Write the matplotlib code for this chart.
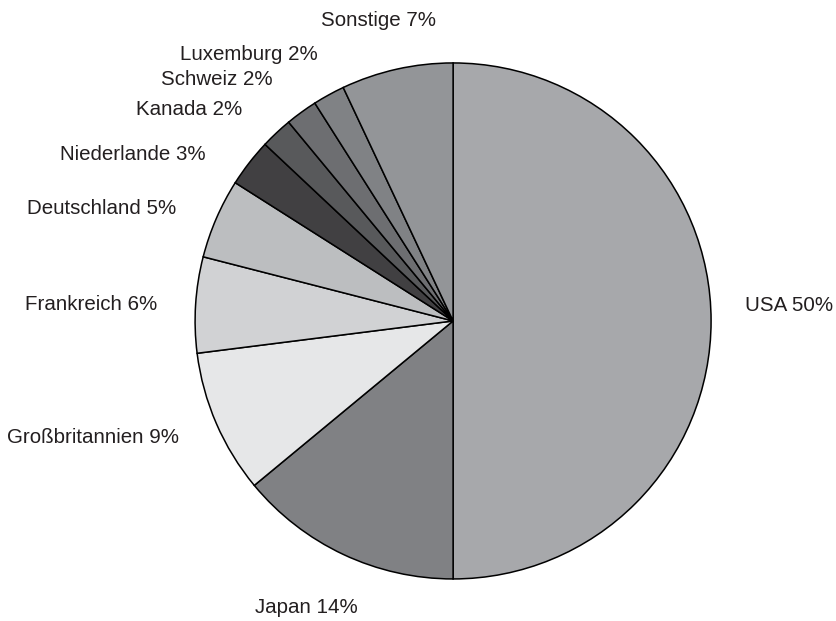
import matplotlib.pyplot as plt

countries = ["USA", "Japan", "Großbritannien", "Frankreich", "Deutschland",
             "Niederlande", "Kanada", "Schweiz", "Luxemburg", "Sonstige"]
shares = [50, 14, 9, 6, 5, 3, 2, 2, 2, 7]
colors = ["#a7a8ab", "#808184", "#e6e7e8", "#d1d2d4", "#bcbec0",
          "#414042", "#58595b", "#6d6e71", "#808285", "#939598"]

# label anchor points (pie radius = 1)
label_pos = [(1.302, 0.06), (-0.57, -1.112), (-1.395, -0.453), (-1.403, 0.062),
             (-1.364, 0.434), (-1.242, 0.647), (-1.023, 0.818), (-0.915, 0.934),
             (-0.793, 1.031), (-0.29, 1.166)]

plt.rcParams['font.family'] = ['Liberation Sans', 'DejaVu Sans']

fig = plt.figure(figsize=(8.36, 6.21), dpi=100)
ax = fig.add_axes([0, 0, 1, 1])

wedges, _ = ax.pie(shares, colors=colors, startangle=90, counterclock=False,
                   wedgeprops=dict(edgecolor="black", linewidth=1.1))

for name, val, (x, y) in zip(countries, shares, label_pos):
    ax.text(x, y, f"{name} {val}%", ha="center", va="center",
            fontsize=14.8, color="#231f20")

ax.set_xlim(-1.756, 1.484)
ax.set_ylim(-1.163, 1.244)
ax.set_aspect("equal")
ax.axis("off")

fig.savefig("out.png", dpi=100)
